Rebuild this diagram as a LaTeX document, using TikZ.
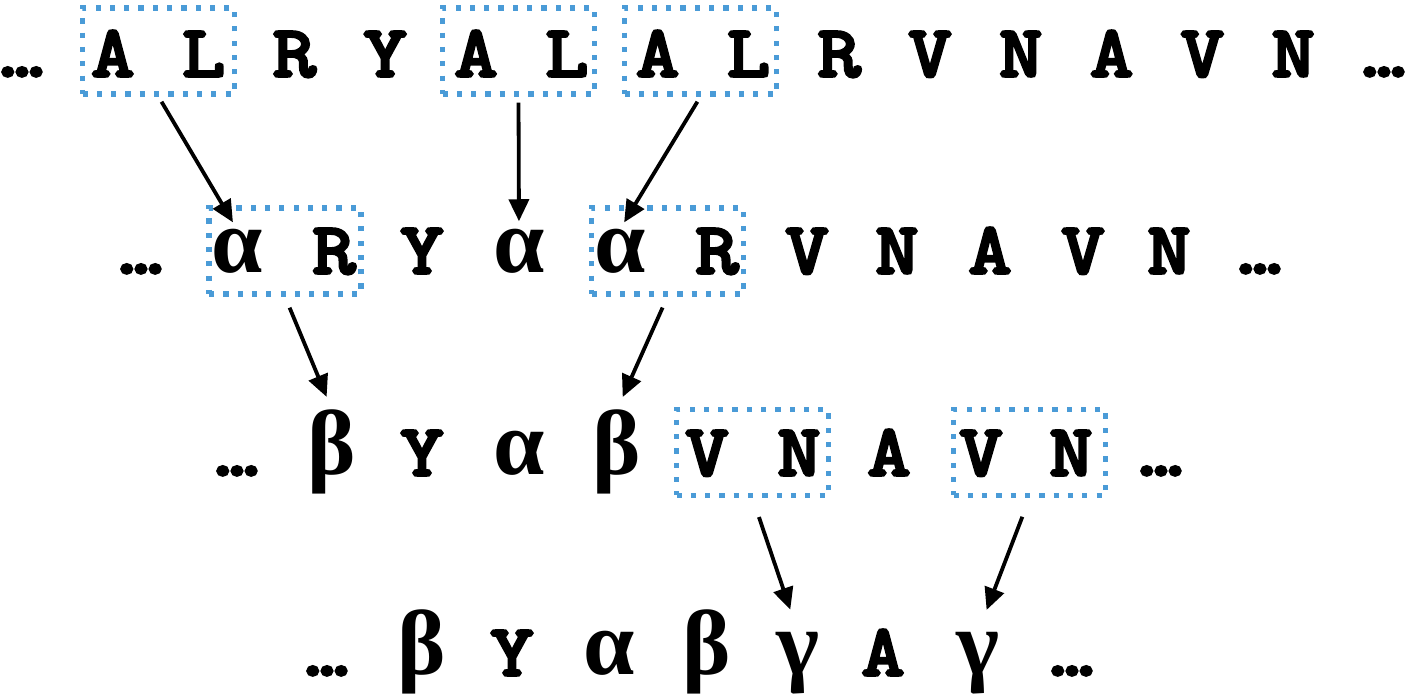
\documentclass[tikz,border=0pt]{standalone}
\usepackage{fontspec}
\newfontfamily\seqfont[FakeBold=5,FakeStretch=1.15]{Latin Modern Mono}
\newfontfamily\greekfont{Liberation Serif}
\usetikzlibrary{arrows.meta}
\definecolor{boxblue}{RGB}{74,155,215}
\newcommand{\grk}[1]{{\greekfont\bfseries\fontsize{46}{48}\selectfont #1}}
\tikzset{
  sym/.style={anchor=base, inner sep=0pt, font=\seqfont\fontsize{36}{40}\selectfont},
  pairbox/.style={draw=boxblue, line width=2.6pt, dash pattern=on 2.6pt off 4.55pt,
    minimum width=76pt, minimum height=43pt, inner sep=0pt},
  arr/.style={-{Triangle[length=11pt,width=10pt]}, line width=1.9pt, shorten <=3pt, shorten >=4pt}
}
\begin{document}
\begin{tikzpicture}[x=0.5pt,y=-0.5pt]
\useasboundingbox (0,0) rectangle (1405,695);
% sequence rows
\foreach \c [count=\i] in {…,A,L,R,Y,A,L,A,L,R,V,N,A,V,N,…}
  \node[sym] (r1-\i) at ({22+90.8*(\i-1)},76) {\c};
\foreach \x/\c [count=\i] in {141/…,237/\grk{α},334/R,422/Y,519/\grk{α},620/\grk{α},717/R,807/V,897/N,990/A,1083/V,1169/N,1260/…}
  \node[sym] (r2-\i) at (\x,273) {\c};
\foreach \x/\c [count=\i] in {237/…,332/\grk{β},422/Y,519/\grk{α},617/\grk{β},707/V,799/N,889/A,981/V,1071/N,1161/…}
  \node[sym] (r3-\i) at (\x,475) {\c};
\foreach \x/\c [count=\i] in {327/…,422/\grk{β},512/Y,609/\grk{α},707/\grk{β},798/\grk{γ},883/A,978/\grk{γ},1072/…}
  \node[sym] (r4-\i) at (\x,675) {\c};
% replaced pairs
\node[pairbox] (b1-1) at (158.5,51) {};
\node[pairbox] (b1-2) at (518.5,51) {};
\node[pairbox] (b1-3) at (700.5,51) {};
\node[pairbox] (b2-1) at (285,251) {};
\node[pairbox] (b2-2) at (667.5,251) {};
\node[pairbox] (b3-1) at (752.5,452.5) {};
\node[pairbox] (b3-2) at (1029.5,452.5) {};
% substitutions
\draw[arr] (b1-1.south) -- (r2-2.north);
\draw[arr] (b1-2.south) -- (r2-5.north);
\draw[arr] (b1-3.south) -- (r2-6.north);
\draw[arr, shorten <=6pt, shorten >=7pt] (b2-1.south) -- (r3-2.north);
\draw[arr, shorten <=6pt, shorten >=7pt] (b2-2.south) -- (r3-5.north);
\draw[arr, shorten <=10pt, shorten >=12pt] (b3-1.south) -- (r4-6.north);
\draw[arr, shorten <=10pt, shorten >=12pt] (b3-2.south) -- (r4-8.north);
\end{tikzpicture}
\end{document}
